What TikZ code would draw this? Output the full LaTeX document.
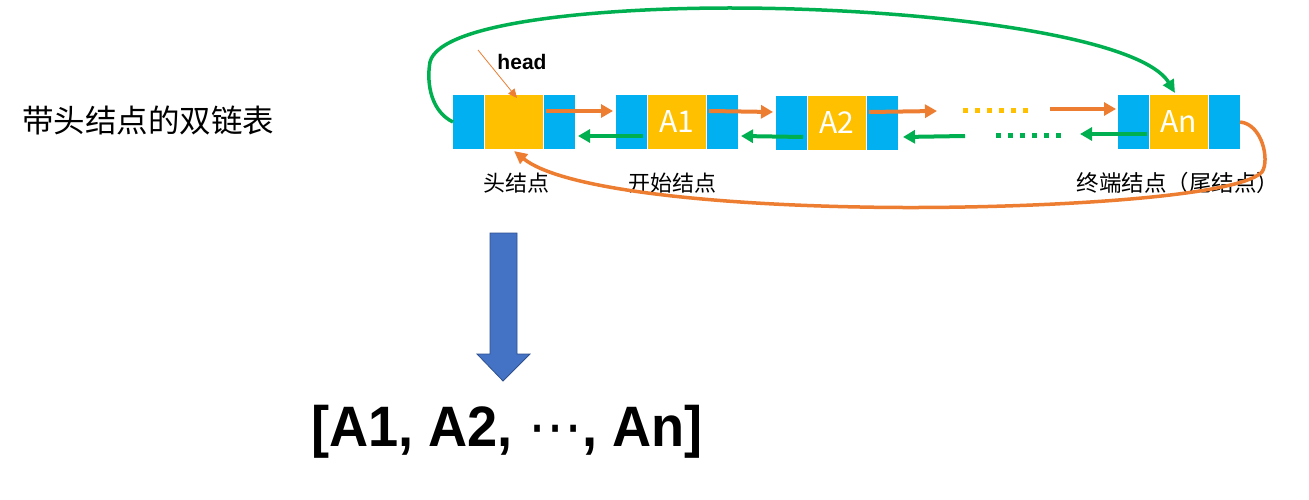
\documentclass[tikz,border=0pt]{standalone}
\usepackage{fontspec}
\setmainfont{Noto Sans CJK SC}
\newfontfamily\latinf{Liberation Sans}
\newfontfamily\dejavu{DejaVu Sans}
\usetikzlibrary{arrows.meta}
\definecolor{cblue}{HTML}{00B0F0}
\definecolor{cyel}{HTML}{FFC000}
\definecolor{corg}{HTML}{ED7D31}
\definecolor{cgrn}{HTML}{00B050}
\definecolor{carr}{HTML}{4472C4}
\definecolor{carrd}{HTML}{2F528F}
\tikzset{
  bcell/.style={fill=cblue, minimum width=31pt, minimum height=54pt, inner sep=0pt, outer sep=0pt, anchor=north west},
  ycell/.style={fill=cyel, minimum width=58pt, minimum height=54pt, inner sep=0pt, outer sep=0pt, anchor=north west, text=white, font=\fontsize{30}{30}\selectfont},
  lbl/.style={font=\fontsize{22}{22}\selectfont, inner sep=0pt},
  oarr/.style={corg, line width=4pt, -{Triangle[length=12pt,width=13pt]}},
  garr/.style={cgrn, line width=4pt, -{Triangle[length=12pt,width=13pt]}},
  ydots/.style={cyel, line width=5pt, dash pattern=on 5pt off 7pt},
  gdots/.style={cgrn, line width=5pt, dash pattern=on 5pt off 7pt},
}
\begin{document}
\begin{tikzpicture}[x=1pt,y=-1pt]
\useasboundingbox (0,0) rectangle (1309,500);
\fill[white] (0,0) rectangle (1309,500);

% title
\node[font=\fontsize{31.5}{31.5}\selectfont, inner sep=0pt] (title) at (148,120) {带头结点的双链表};

% head node
\node[bcell] (hL) at (453,95) {};
\node[ycell] (hM) at (485,95) {};
\node[bcell] (hR) at (544,95) {};
% A1
\node[bcell] (a1L) at (616,95) {};
\node[ycell] (a1M) at (648,95) {A1};
\node[bcell] (a1R) at (707,95) {};
% A2
\node[bcell] (a2L) at (776,96) {};
\node[ycell] (a2M) at (808,96) {A2};
\node[bcell] (a2R) at (867,96) {};
% An
\node[bcell] (anL) at (1118,95) {};
\node[ycell] (anM) at (1150,95) {An};
\node[bcell] (anR) at (1209,95) {};

% labels
\node[lbl] (l0) at (516,183) {头结点};
\node[lbl] (l1) at (672,183) {开始结点};
\node[lbl, font=\fontsize{22.5}{22.5}\selectfont] (l2) at (1178,183) {终端结点（尾结点）};

% head pointer
\node[font=\latinf\bfseries\fontsize{21}{21}\selectfont, inner sep=0pt] (headt) at (522,62) {head};
\coordinate (hp) at (478,50);
\draw[corg, line width=0.8pt, -{Triangle[length=9pt,width=8pt]}] (hp) -- ([xshift=3pt,yshift=-3pt]hM.north);

% forward arrows
\draw[oarr] ([xshift=2pt,yshift=11pt]hR.west) -- ([xshift=-3pt,yshift=11pt]a1L.west);
\draw[oarr] ([xshift=2pt,yshift=11pt]a1R.west) -- ([xshift=-3pt,yshift=11pt]a2L.west);
\coordinate (fe) at (937,111);
\draw[oarr] ([xshift=2pt,yshift=11pt]a2R.west) -- (fe);
\coordinate (fs) at (1050,109);
\draw[oarr] (fs) -- ([xshift=-2pt,yshift=13pt]anL.west);
\coordinate (yd1) at (963,111);
\coordinate (yd2) at (1030,111);
\draw[ydots] (yd1) -- (yd2);

% backward arrows
\draw[garr] ([xshift=-4pt,yshift=-14pt]a1L.east) -- ([xshift=3pt,yshift=-14pt]hR.east);
\draw[garr] ([xshift=-4pt,yshift=-14pt]a2L.east) -- ([xshift=3pt,yshift=-14pt]a1R.east);
\coordinate (bs) at (965,136);
\draw[garr] (bs) -- ([xshift=5pt,yshift=-14pt]a2R.east);
\coordinate (be) at (1080,134);
\draw[garr] ([xshift=-2pt,yshift=-12pt]anL.east) -- (be);
\coordinate (gd1) at (996,136);
\draw[gdots] (gd1) -- ++(67,0);

% big green curve: head -> An
\draw[cgrn, line width=3.5pt, -{Triangle[length=13pt,width=12pt]}]
  (hL.west) .. controls (432,112) and (426,85) .. (430,62)
  .. controls (440,22) and (600,8) .. (730,8)
  .. controls (920,8) and (1140,35) .. ([xshift=-4pt,yshift=2pt]anM.north);

% big orange curve: An -> head
\draw[corg, line width=3.5pt, -{Triangle[length=13pt,width=12pt]}]
  (anR.east) .. controls (1262,124) and (1270,160) .. (1262,172)
  .. controls (1235,200) and (1000,210) .. (860,207)
  .. controls (700,204) and (560,188) .. ([yshift=-2pt]hM.south);

% block arrow
\coordinate (ba) at (503,381);
\draw[carrd, fill=carr, line width=0.8pt] (490,233) -- (517,233) -- (517,354) -- (530,354) -- (ba) -- (477,354) -- (490,354) -- cycle;

% list text
\node[font=\latinf\bfseries\fontsize{57}{57}\selectfont, inner sep=0pt, xscale=0.95] (lst) at (507,432) {[A1, A2, {\dejavu\mdseries ⋯}, An]};
\end{tikzpicture}
\end{document}
